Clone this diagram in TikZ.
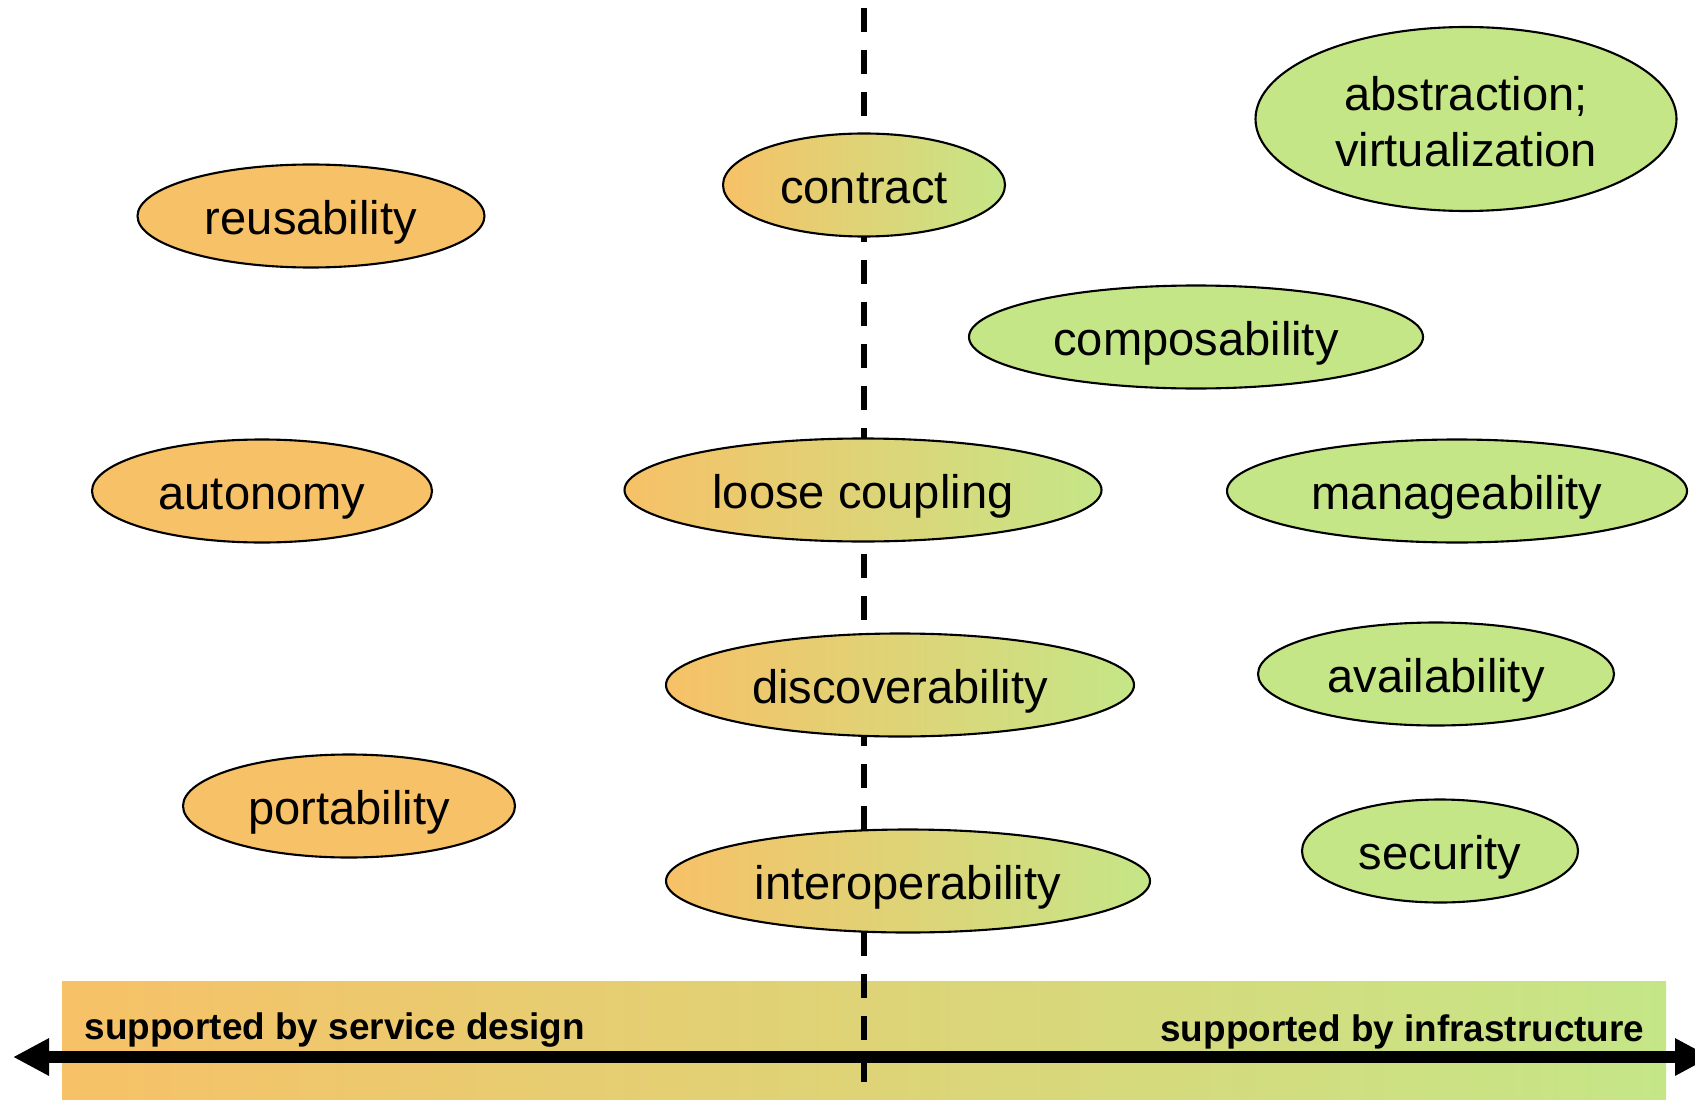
\documentclass[tikz,border=0pt]{standalone}
\usepackage{fontspec}
\setmainfont{Liberation Sans}
\usetikzlibrary{arrows.meta, shapes.geometric}

\definecolor{designorange}{RGB}{247,193,103}
\definecolor{infragreen}{RGB}{197,230,135}

\begin{document}
\begin{tikzpicture}[
  prop/.style={draw, ellipse, line width=0.6pt, inner sep=0pt, minimum height=1.03cm, align=center,
    font=\fontsize{13.4}{16.2}\selectfont, text height=13.4pt, text depth=2.7pt},
  designprop/.style={prop, fill=designorange},
  infraprop/.style={prop, fill=infragreen},
  sharedprop/.style={prop, left color=designorange, right color=infragreen},
  barlabel/.style={inner sep=0pt, font=\bfseries\fontsize{10.5}{12}\selectfont},
  divider/.style={line width=1.8pt, dash pattern=on 2.4mm off 1.8mm},
  axis/.style={{Triangle[length=3.6mm,width=3.5mm]}-{Triangle[length=3.6mm,width=3.5mm]}, line width=3.6pt}
]
\useasboundingbox (0,0) rectangle (16.95,10.99);
\clip (0,0) rectangle (16.95,10.99);

% band along the bottom
\node[draw=none, inner sep=0pt, minimum width=16.04cm, minimum height=1.18cm,
  left color=designorange, right color=infragreen] (bar) at (8.64,0.59) {};

\coordinate (top) at (8.64,10.91);
\coordinate (bottom) at (8.64,0.16);
\coordinate (west) at (0.13,0.42);
\coordinate (east) at (17.11,0.42);

\draw[divider] (top) -- (bottom);
\draw[axis] (west) -- (east);

\node[barlabel, anchor=base west] (designlbl) at (0.84,0.60) {supported by service design};
\node[barlabel, anchor=base east] (infralbl) at (16.45,0.58) {supported by infrastructure};

% left column
\node[designprop, minimum width=3.47cm] (reuse) at (3.11,8.83) {reusability};
\node[designprop, minimum width=3.40cm] (autonomy) at (2.62,6.08) {autonomy};
\node[designprop, minimum width=3.32cm] (port) at (3.49,2.93) {portability};

% on the divide
\node[sharedprop, minimum width=2.82cm] (contract) at (8.64,9.14) {contract};
\node[sharedprop, minimum width=4.77cm] (loose) at (8.63,6.09) {loose coupling};
\node[sharedprop, minimum width=4.68cm] (discover) at (9.00,4.14) {discoverability};
\node[sharedprop, minimum width=4.84cm] (interop) at (9.08,2.18) {interoperability};

% right column
\node[infraprop, minimum width=4.21cm, minimum height=1.84cm, text height=27.3pt, text depth=0pt]
  (abstr) at (14.66,9.80) {abstraction;\\virtualization};
\node[infraprop, minimum width=4.54cm] (compose) at (11.96,7.62) {composability};
\node[infraprop, minimum width=4.60cm] (manage) at (14.57,6.08) {manageability};
\node[infraprop, minimum width=3.56cm] (avail) at (14.36,4.25) {availability};
\node[infraprop, minimum width=2.76cm] (secure) at (14.40,2.48) {security};
\end{tikzpicture}
\end{document}
